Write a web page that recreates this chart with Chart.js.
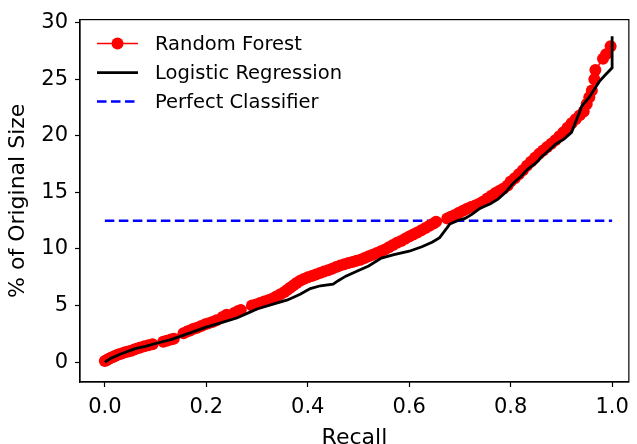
<!DOCTYPE html>
<html>
<head>
<meta charset="utf-8">
<script src="https://cdn.jsdelivr.net/npm/chart.js@4.4.0/dist/chart.umd.min.js"></script>
<style>
  html, body { margin: 0; padding: 0; background: #fff; }
</style>
</head>
<body>
<canvas id="chart" width="637" height="444"></canvas>
<script>
// values
const rfRecall = [0.000, 0.004, 0.008, 0.012, 0.016, 0.020, 0.025, 0.030, 0.035, 0.040,
  0.046, 0.052, 0.058, 0.064, 0.070, 0.078, 0.086, 0.094, 0.115, 0.122,
  0.130, 0.136, 0.155, 0.162, 0.168, 0.175, 0.182, 0.190, 0.198, 0.205,
  0.212, 0.220, 0.232, 0.240, 0.255, 0.262, 0.268, 0.290, 0.298, 0.306,
  0.314, 0.322, 0.330, 0.338, 0.346, 0.354, 0.360, 0.366, 0.372, 0.378,
  0.385, 0.392, 0.400, 0.408, 0.416, 0.424, 0.432, 0.440, 0.448, 0.456,
  0.464, 0.472, 0.480, 0.488, 0.496, 0.504, 0.512, 0.520, 0.528, 0.536,
  0.544, 0.552, 0.560, 0.568, 0.576, 0.584, 0.592, 0.600, 0.608, 0.616,
  0.624, 0.632, 0.640, 0.648, 0.653, 0.675, 0.682, 0.690, 0.698, 0.706,
  0.714, 0.722, 0.730, 0.738, 0.746, 0.754, 0.762, 0.770, 0.778, 0.786,
  0.794, 0.800, 0.808, 0.816, 0.824, 0.832, 0.840, 0.848, 0.856, 0.864,
  0.872, 0.880, 0.888, 0.896, 0.904, 0.912, 0.920, 0.928, 0.936, 0.944,
  0.950, 0.955, 0.960, 0.965, 0.967, 0.982, 0.988, 0.997];
const rfSize = [0.10, 0.20, 0.30, 0.40, 0.45, 0.55, 0.65, 0.72, 0.80, 0.88,
  0.95, 1.02, 1.12, 1.22, 1.30, 1.40, 1.50, 1.58, 1.80, 1.90,
  2.00, 2.08, 2.55, 2.70, 2.80, 2.95, 3.05, 3.20, 3.35, 3.45,
  3.55, 3.70, 4.00, 4.20, 4.35, 4.50, 4.60, 5.00, 5.10, 5.22,
  5.35, 5.48, 5.60, 5.80, 6.00, 6.20, 6.40, 6.60, 6.80, 7.00,
  7.20, 7.35, 7.50, 7.62, 7.75, 7.88, 8.00, 8.12, 8.25, 8.40,
  8.55, 8.65, 8.75, 8.85, 8.95, 9.05, 9.20, 9.35, 9.50, 9.65,
  9.80, 9.95, 10.15, 10.35, 10.55, 10.70, 10.90, 11.10, 11.28, 11.45,
  11.65, 11.85, 12.05, 12.25, 12.40, 12.70, 12.85, 13.00, 13.20, 13.38,
  13.55, 13.70, 13.85, 14.00, 14.20, 14.45, 14.70, 14.95, 15.15, 15.35,
  15.60, 15.95, 16.25, 16.60, 16.95, 17.35, 17.70, 18.05, 18.40, 18.70,
  19.00, 19.30, 19.60, 19.95, 20.30, 20.70, 21.10, 21.45, 21.80, 22.15,
  22.80, 23.40, 24.00, 25.00, 25.80, 26.80, 27.20, 27.90];

const lrRecall = [0.000, 0.010, 0.030, 0.060, 0.080, 0.100, 0.130, 0.150, 0.175, 0.200,
  0.230, 0.260, 0.285, 0.300, 0.330, 0.360, 0.385, 0.405, 0.425, 0.450,
  0.460, 0.475, 0.500, 0.520, 0.545, 0.570, 0.600, 0.625, 0.645, 0.660,
  0.670, 0.680, 0.695, 0.710, 0.725, 0.740, 0.760, 0.775, 0.790, 0.805,
  0.820, 0.835, 0.850, 0.860, 0.875, 0.890, 0.905, 0.920, 0.935, 0.940,
  0.955, 0.962, 0.975, 0.985, 1.000, 1.000];
const lrSize = [0.00, 0.30, 0.70, 1.20, 1.40, 1.65, 2.00, 2.30, 2.70, 3.10,
  3.50, 3.90, 4.40, 4.70, 5.10, 5.50, 6.00, 6.50, 6.75, 6.90,
  7.20, 7.60, 8.10, 8.50, 9.20, 9.50, 9.80, 10.20, 10.60, 11.00,
  11.60, 12.20, 12.50, 12.70, 13.10, 13.60, 14.00, 14.40, 15.00, 15.80,
  16.40, 17.10, 17.60, 18.10, 18.70, 19.30, 19.70, 20.30, 22.00, 22.60,
  23.40, 23.90, 24.80, 25.30, 26.00, 28.80];

const perfectRecall = [0, 1];
const perfectSize = [12.5, 12.5];

const xTicks = [0, 0.2, 0.4, 0.6, 0.8, 1.0];
const yTicks = [0, 5, 10, 15, 20, 25, 30];

function toPoints(xs, ys) {
  return xs.map((x, i) => ({x: x, y: ys[i]}));
}

const FONT = "'DejaVu Sans', sans-serif";

const framePlugin = { // draws the 4 spines
  id: 'frame',
  afterDatasetsDraw(chart) {
    const a = chart.chartArea, ctx = chart.ctx;
    ctx.save();
    ctx.strokeStyle = '#000';
    ctx.lineWidth = 1.2;
    ctx.strokeRect(a.left, a.top, a.right - a.left, a.bottom - a.top);
    ctx.restore();
  }
};

const legendPlugin = { // matplotlib style legend, upper left
  id: 'mplLegend',
  afterDraw(chart) {
    const ctx = chart.ctx, a = chart.chartArea;
    const x0 = a.left + 17, x1 = a.left + 58, tx = a.left + 75;
    let y = a.top + 24;
    ctx.save();
    ctx.font = '19.5px ' + FONT;
    ctx.textBaseline = 'middle';
    chart.data.datasets.forEach(ds => {
      ctx.strokeStyle = ds.borderColor;
      ctx.lineWidth = ds.borderWidth;
      ctx.setLineDash(ds.borderDash || []);
      ctx.beginPath();
      ctx.moveTo(x0, y);
      ctx.lineTo(x1, y);
      ctx.stroke();
      ctx.setLineDash([]);
      if (ds.pointRadius > 0) {
        ctx.fillStyle = ds.pointBackgroundColor;
        ctx.beginPath();
        ctx.arc((x0 + x1) / 2, y, ds.pointRadius, 0, Math.PI * 2);
        ctx.fill();
      }
      ctx.fillStyle = '#000';
      ctx.fillText(ds.label, tx, y + 1);
      y += 29;
    });
    ctx.restore();
  }
};

new Chart(document.getElementById('chart'), {
  type: 'scatter',
  data: {
    datasets: [
      {
        label: 'Random Forest',
        data: toPoints(rfRecall, rfSize),
        showLine: true,
        borderColor: '#ff0000',
        borderWidth: 1.5,
        pointRadius: 6,
        pointBackgroundColor: '#ff0000',
        pointBorderWidth: 0,
        order: 2
      },
      {
        label: 'Logistic Regression',
        data: toPoints(lrRecall, lrSize),
        showLine: true,
        borderColor: '#000000',
        borderWidth: 2.8,
        pointRadius: 0,
        order: 1
      },
      {
        label: 'Perfect Classifier',
        data: toPoints(perfectRecall, perfectSize),
        showLine: true,
        borderColor: '#0000ff',
        borderWidth: 2.5,
        borderDash: [9.5, 4.5],
        pointRadius: 0,
        order: 3
      }
    ]
  },
  options: {
    responsive: false,
    animation: false,
    layout: { padding: { top: 16, right: 2, left: 0, bottom: 0 } },
    plugins: { legend: { display: false }, tooltip: { enabled: false } },
    scales: {
      x: {
        type: 'linear',
        min: -0.049,
        max: 1.033,
        afterFit(s) { s.height = 62; },
        afterBuildTicks(s) { s.ticks = xTicks.map(v => ({value: v})); },
        grid: { drawOnChartArea: false, drawTicks: true, tickLength: 5, tickColor: '#000', tickWidth: 1.2 },
        border: { display: true, color: '#000', width: 1.2 },
        ticks: {
          color: '#000',
          padding: 8,
          font: { family: FONT, size: 21 },
          maxRotation: 0,
          callback: v => v.toFixed(1)
        },
        title: {
          display: true,
          text: 'Recall',
          color: '#000',
          font: { family: FONT, size: 22 },
          padding: { top: 0, bottom: -7 }
        }
      },
      y: {
        type: 'linear',
        min: -1.75,
        max: 30.26,
        afterFit(s) { s.width = 80; },
        afterBuildTicks(s) { s.ticks = yTicks.map(v => ({value: v})); },
        grid: { drawOnChartArea: false, drawTicks: true, tickLength: 5, tickColor: '#000', tickWidth: 1.2 },
        border: { display: true, color: '#000', width: 1.2 },
        ticks: {
          color: '#000',
          padding: 7,
          font: { family: FONT, size: 21 },
          callback: v => String(v)
        },
        title: {
          display: true,
          text: '% of Original Size',
          color: '#000',
          font: { family: FONT, size: 22 },
          padding: { top: 5, bottom: 0 }
        }
      }
    }
  },
  plugins: [framePlugin, legendPlugin]
});
</script>
</body>
</html>
